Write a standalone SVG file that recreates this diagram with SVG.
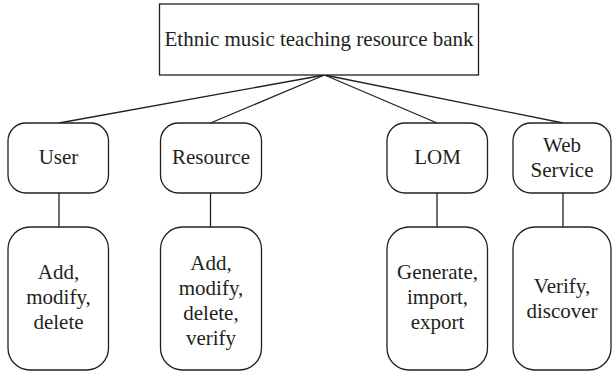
<svg xmlns="http://www.w3.org/2000/svg" width="612" height="377" viewBox="0 0 612 377">
<style>
.box{fill:#fff;stroke:#231f20;stroke-width:1.3}
.t{font-family:"Liberation Serif",Tinos,"Noto Serif","Times New Roman",Times,"DejaVu Serif",Georgia,serif;font-size:21px;fill:#231f20;text-anchor:middle}
.c{stroke:#231f20;stroke-width:1.3;fill:none}
</style>
<rect width="612" height="377" fill="#fff"/>
<g id="connectors">
<line class="c" x1="324.5" y1="75" x2="59" y2="123"/>
<line class="c" x1="324.5" y1="75" x2="210.5" y2="123"/>
<line class="c" x1="324.5" y1="75" x2="437" y2="123"/>
<line class="c" x1="324.5" y1="75" x2="563" y2="123"/>
<line class="c" x1="59" y1="193" x2="59" y2="227"/>
<line class="c" x1="210.5" y1="193" x2="210.5" y2="227"/>
<line class="c" x1="437" y1="193" x2="437" y2="227"/>
<line class="c" x1="563" y1="193" x2="563" y2="227"/>
</g>
<g id="root">
<rect class="box" x="159.5" y="4" width="319" height="71"/>
<text class="t" x="319" y="46">Ethnic music teaching resource bank</text>
</g>
<g id="user">
<rect class="box" x="8" y="123" width="100.5" height="70" rx="18"/>
<text class="t" x="58.5" y="164">User</text>
</g>
<g id="resource">
<rect class="box" x="160.5" y="123" width="101" height="70" rx="18"/>
<text class="t" x="211" y="164">Resource</text>
</g>
<g id="lom">
<rect class="box" x="387" y="123" width="100.5" height="70" rx="18"/>
<text class="t" x="437.5" y="164">LOM</text>
</g>
<g id="webservice">
<rect class="box" x="513" y="123" width="98" height="70" rx="18"/>
<text class="t" x="562" y="152">Web</text>
<text class="t" x="562" y="177">Service</text>
</g>
<g id="user-ops">
<rect class="box" x="8" y="227" width="100.5" height="143" rx="22"/>
<text class="t" x="58.5" y="279">Add,</text>
<text class="t" x="58.5" y="304">modify,</text>
<text class="t" x="58.5" y="329">delete</text>
</g>
<g id="resource-ops">
<rect class="box" x="160.5" y="227" width="101" height="143" rx="22"/>
<text class="t" x="211" y="270">Add,</text>
<text class="t" x="211" y="295">modify,</text>
<text class="t" x="211" y="320">delete,</text>
<text class="t" x="211" y="345">verify</text>
</g>
<g id="lom-ops">
<rect class="box" x="387" y="227" width="100.5" height="143" rx="22"/>
<text class="t" x="437.5" y="279">Generate,</text>
<text class="t" x="437.5" y="304">import,</text>
<text class="t" x="437.5" y="329">export</text>
</g>
<g id="webservice-ops">
<rect class="box" x="513" y="227" width="98" height="143" rx="22"/>
<text class="t" x="562" y="293">Verify,</text>
<text class="t" x="562" y="318">discover</text>
</g>
</svg>
